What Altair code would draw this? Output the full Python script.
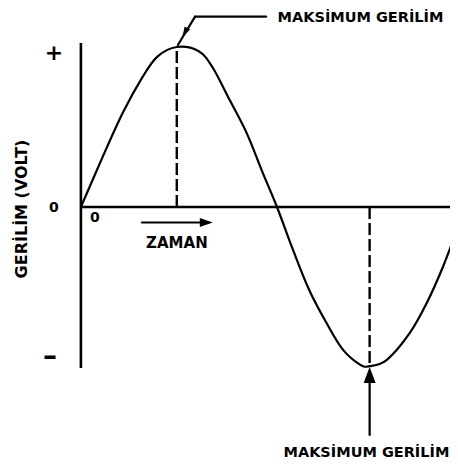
import altair as alt
import pandas as pd

# Sine wave: phase (degrees) vs. relative voltage
zaman = [0, 20, 39, 57, 71, 89, 109, 122, 138, 154, 169, 182, 197, 212, 228, 243,
         259, 268, 284, 305, 321, 336, 350]
gerilim = [0, 0.31, 0.59, 0.81, 0.94, 1.0, 0.975, 0.875, 0.67, 0.46, 0.21, 0, -0.27,
           -0.52, -0.725, -0.89, -0.985, -0.995, -0.955, -0.79, -0.6, -0.375, -0.125]

tepe_zaman = 89    # positive peak
dip_zaman = 268    # negative peak

W, H = 442, 455
xs = alt.Scale(domain=[-67.67, 342.6], nice=False, zero=False)
ys = alt.Scale(domain=[-1.6, 1.24375], nice=False, zero=False)
FONT = "DejaVu Sans"


def X(f="x"):
    return alt.X(f"{f}:Q", scale=xs, axis=None)


def Y(f="y"):
    return alt.Y(f"{f}:Q", scale=ys, axis=None)


def seg(rows, **kw):
    return alt.Chart(pd.DataFrame(rows)).mark_rule(color="black", **kw).encode(
        x=X("x"), y=Y("y"), x2="x2:Q", y2="y2:Q")


curve = alt.Chart(pd.DataFrame({"x": zaman, "y": gerilim})).mark_line(
    color="black", strokeWidth=2.2, interpolate="cardinal", clip=True
).encode(x=X(), y=Y())

axes = seg([
    {"x": 0, "y": 1.025, "x2": 0, "y2": -1.006},
    {"x": 0, "y": 0, "x2": 342.6, "y2": 0},
], strokeWidth=2.6)

dashes = seg([
    {"x": tepe_zaman, "y": 0, "x2": tepe_zaman, "y2": 1.0},
    {"x": dip_zaman, "y": 0, "x2": dip_zaman, "y2": -1.0},
], strokeWidth=2.4, strokeDash=[12, 4])

arrows = seg([
    {"x": dip_zaman, "y": -1.1, "x2": dip_zaman, "y2": -1.425},
    {"x": 56.6, "y": -0.097, "x2": 111, "y2": -0.097},
    {"x": 106, "y": 1.19, "x2": 172, "y2": 1.19},
    {"x": 90, "y": 1.0125, "x2": 106, "y2": 1.19},
], strokeWidth=2.2, strokeCap="round")


def head(x, y, shape, size, angle=0):
    return alt.Chart(pd.DataFrame({"x": [x], "y": [y]})).mark_point(
        shape=shape, size=size, angle=angle, filled=True, color="black", opacity=1,
        strokeWidth=0
    ).encode(x=X(), y=Y())


heads = (
    head(dip_zaman, -1.05, "M0,-1L0.75,1L-0.75,1Z", 256)
    + head(116.4, -0.097, "M1,0L-1,-0.7L-1,0.7Z", 169)
    + head(96.5, 1.09, "M0,-1L0.6,1L-0.6,1Z", 110, 209.5)
)


def txt(x, y, s, size, angle=0):
    return alt.Chart(pd.DataFrame({"x": [x], "y": [y], "t": [s]})).mark_text(
        font=FONT, fontWeight="bold", fontSize=size, color="black", angle=angle,
        align="center", baseline="middle"
    ).encode(x=X(), y=Y(), text="t:N")


texts = (
    txt(-25.0, 0.9625, "+", 22)
    + txt(-25.0, -0.006, "0", 14)
    + txt(-28.8, -0.935, "–", 28)
    + txt(13.0, -0.069, "0", 14)
    + txt(89.1, -0.222, "ZAMAN", 15)
    + txt(259.5, 1.18, "MAKSİMUM GERİLİM", 14.5)
    + txt(265.0, -1.54, "MAKSİMUM GERİLİM", 14.5)
    + txt(-54.8, -0.0125, "GERİLİM (VOLT)", 16, 270)
)

chart = (axes + dashes + curve + arrows + heads + texts).properties(
    width=W, height=H, padding=0, background="white",
    autosize=alt.AutoSizeParams(type="none"),
).configure_view(stroke=None)

chart.save("out.html", embed_options={"renderer": "svg", "actions": False})
